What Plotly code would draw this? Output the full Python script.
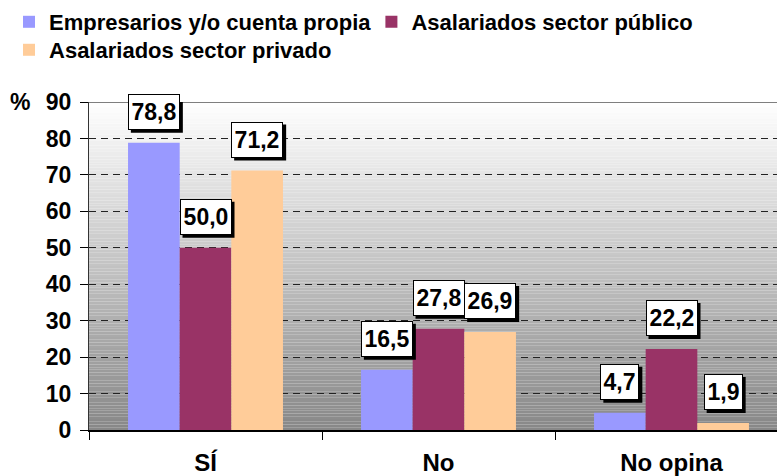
import plotly.graph_objects as go

# Survey answers by occupational group (percent)
categories = ["SÍ", "No", "No opina"]
series_names = [
    "Empresarios y/o cuenta propia",
    "Asalariados sector público",
    "Asalariados sector privado",
]
empresarios = [78.8, 16.5, 4.7]
publico = [50.0, 27.8, 22.2]
privado = [71.2, 26.9, 1.9]
y_ticks = [0, 10, 20, 30, 40, 50, 60, 70, 80, 90]

series_values = [empresarios, publico, privado]
colors = ["#9999FF", "#993366", "#FFCC99"]
legend_ids = ["legend", "legend2", "legend3"]

FONT = "Arial, 'Liberation Sans', sans-serif"
BARGAP = 0.335
Y_MAX = 90

# value-label box styling
LBL_SIZE = 23
LBL_PAD = 2
LBL_BW = 1
LBL_H = 30
LBL_GAP = 13       # px between bar top and label box
SHADOW = 3         # px drop-shadow offset

fig = go.Figure()
for name, vals, col, lg in zip(series_names, series_values, colors, legend_ids):
    fig.add_trace(go.Bar(
        x=categories, y=vals, name=name, legend=lg, showlegend=True,
        marker=dict(color=col, line=dict(width=0)),
        hoverinfo="skip",
    ))

# Vertical white-to-grey gradient behind the plot
shapes = []
n_bands = 120
for k in range(n_bands):
    y0 = Y_MAX * k / n_bands
    y1 = Y_MAX * (k + 1) / n_bands
    t = (k + 0.5) / n_bands
    v = int(round(135 + 120 * t))
    shapes.append(dict(
        type="rect", xref="paper", yref="y", x0=0, x1=1, y0=y0, y1=y1,
        fillcolor=f"rgb({v},{v},{v})", line=dict(width=0), layer="below",
    ))
# top border of the plot frame
shapes.append(dict(type="line", xref="paper", yref="y", x0=0, x1=1,
                   y0=Y_MAX, y1=Y_MAX, line=dict(color="black", width=1)))


def text_width(s, size):
    # Arial Bold advance widths for digits and comma
    return size * sum(0.278 if ch == "," else 0.556 for ch in s)


# Boxed value labels with a drop shadow
annotations = []
bar_w = (1 - BARGAP) / len(series_values)
for i, vals in enumerate(series_values):
    for j, v in enumerate(vals):
        xpos = j + (i - (len(series_values) - 1) / 2) * bar_w
        txt = f"{v:.1f}".replace(".", ",")
        tw = round(text_width(txt, LBL_SIZE)) + 1
        box_w = tw + 2 * LBL_PAD + 2 * LBL_BW
        box_h = LBL_H + 2 * LBL_PAD + 2 * LBL_BW
        shapes.append(dict(
            type="rect", xref="x", yref="y", layer="above",
            xsizemode="pixel", ysizemode="pixel", xanchor=xpos, yanchor=v,
            x0=-box_w / 2 + SHADOW, x1=box_w / 2 + SHADOW,
            y0=LBL_GAP - SHADOW, y1=LBL_GAP + box_h - SHADOW,
            fillcolor="black", line=dict(width=0),
        ))
        annotations.append(dict(
            x=xpos, y=v, xref="x", yref="y", text=txt, showarrow=False,
            xanchor="center", yanchor="bottom", yshift=LBL_GAP,
            width=tw, height=LBL_H, borderpad=LBL_PAD,
            bgcolor="white", bordercolor="black", borderwidth=LBL_BW,
            font=dict(family=FONT, size=LBL_SIZE, color="black", weight="bold"),
        ))

annotations.append(dict(
    x=-0.1003, y=Y_MAX, xref="paper", yref="y", text="%", showarrow=False,
    xanchor="center", yanchor="middle",
    font=dict(family=FONT, size=23, color="black", weight="bold"),
))

legend_common = dict(
    xref="container", yref="container", xanchor="left", yanchor="middle",
    orientation="h", bgcolor="rgba(0,0,0,0)", borderwidth=0, itemwidth=30,
    font=dict(family=FONT, size=22, color="black", weight="bold"),
)

fig.update_layout(
    width=777, height=476,
    margin=dict(l=89, r=0, t=102, b=46),
    paper_bgcolor="white", plot_bgcolor="white",
    showlegend=True,
    barmode="group", bargap=BARGAP, bargroupgap=0,
    shapes=shapes, annotations=annotations,
    legend=dict(legend_common, x=0.0116, y=0.9538),
    legend2=dict(legend_common, x=0.478, y=0.9538),
    legend3=dict(legend_common, x=0.0116, y=0.895),
    xaxis=dict(
        range=[-0.5, 2.4528], showgrid=False, tickson="boundaries",
        ticks="outside", ticklen=8, tickcolor="black", tickwidth=1,
        showline=True, linecolor="black", linewidth=2, automargin=False,
        tickfont=dict(family=FONT, size=24, color="black", weight="bold"),
        ticklabelstandoff=10,
    ),
    yaxis=dict(
        range=[0, Y_MAX], tickvals=y_ticks, ticks="outside", ticklen=8,
        tickcolor="black", tickwidth=1, showline=True, linecolor="#333333",
        linewidth=1, showgrid=True, gridcolor="#222222", gridwidth=1,
        griddash="7px,5px", zeroline=False, automargin=False,
        tickfont=dict(family=FONT, size=23, color="black", weight="bold"),
        ticklabelstandoff=4,
    ),
)

fig.write_html("out.html")
